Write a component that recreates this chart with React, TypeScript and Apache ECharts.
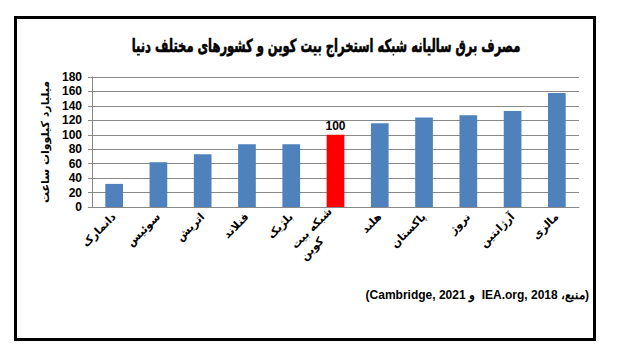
import React, { useEffect, useRef } from "react";
import * as echarts from "echarts";

const NB = "\u00A0";
const categories = [
  "دانمارک",
  "سوئیس",
  "اتریش",
  "فنلاند",
  "بلژیک",
  "شبکه بیت\nکوین" + NB.repeat(7),
  "هلند",
  "پاکستان",
  "نروژ",
  "آرژانتین",
  "مالزی",
];
const values = [32, 62, 73, 87, 87, 100, 116, 124, 127, 133, 158];
const highlightIndex = 5;
const yTicks = [0, 180, 20];

const titleText = "مصرف برق سالیانه شبکه استخراج بیت کوین و کشورهای مختلف دنیا";
const yAxisTitle = "میلیارد کیلووات ساعت";
const sourceText = "\u202B(منبع، IEA.org, 2018  و Cambridge, 2021)\u202C";

const FONT = "'DejaVu Sans', 'Liberation Sans', sans-serif";
const NUMFONT = "'Liberation Sans', Arial, sans-serif";

export default function App() {
  const ref = useRef<HTMLDivElement>(null);
  useEffect(() => {
    if (!ref.current) return;
    const chart = echarts.init(ref.current, null, { renderer: "svg" });
    chart.setOption({
      animation: false,
      backgroundColor: "#ffffff",
      grid: { left: 92, right: 39, top: 77, bottom: 151, containLabel: false },
      graphic: [
        {
          type: "rect",
          shape: { x: 15.5, y: 17.5, width: 579, height: 322 },
          style: { fill: "none", stroke: "#000", lineWidth: 3 },
          silent: true,
        },
        {
          type: "text",
          x: 326,
          y: 46,
          scaleX: 0.64,
          style: {
            text: titleText,
            font: `bold 18px ${FONT}`,
            fill: "#000",
            stroke: "#000",
            lineWidth: 0.6,
            align: "center",
            verticalAlign: "middle",
          },
        },
        {
          type: "text",
          x: 589,
          y: 295,
          style: {
            text: sourceText,
            font: `bold 12px ${NUMFONT}`,
            fill: "#000",
            align: "right",
            verticalAlign: "middle",
          },
        },
      ],
      xAxis: {
        type: "category",
        data: categories,
        axisLine: { show: true, lineStyle: { color: "#888", width: 1 } },
        axisTick: { show: false },
        axisLabel: {
          rotate: 45,
          interval: 0,
          color: "#000",
          fontWeight: "bold",
          fontSize: 11,
          fontFamily: FONT,
          margin: 8,
          lineHeight: 15,
        },
      },
      yAxis: {
        type: "value",
        min: yTicks[0],
        max: yTicks[1],
        interval: yTicks[2],
        name: yAxisTitle,
        nameLocation: "middle",
        nameRotate: 90,
        nameGap: 40,
        nameTextStyle: {
          color: "#000",
          fontWeight: "bold",
          fontSize: 11,
          fontFamily: FONT,
        },
        axisLine: { show: true, lineStyle: { color: "#888", width: 1 } },
        axisTick: { show: true, length: 4, lineStyle: { color: "#888" } },
        splitLine: { show: true, lineStyle: { color: "#888", width: 1 } },
        axisLabel: {
          color: "#000",
          fontWeight: "bold",
          fontSize: 12,
          fontFamily: NUMFONT,
          margin: 10,
        },
      },
      series: [
        {
          type: "bar",
          barWidth: "40%",
          data: values.map((v, i) => ({
            value: v,
            itemStyle: { color: i === highlightIndex ? "#FF0000" : "#4F81BD" },
            label:
              i === highlightIndex
                ? {
                    show: true,
                    position: "top",
                    color: "#000",
                    fontWeight: "bold",
                    fontSize: 12,
                    fontFamily: NUMFONT,
                    distance: 3,
                  }
                : { show: false },
          })),
        },
      ],
    });
    return () => chart.dispose();
  }, []);
  return <div ref={ref} style={{ width: 618, height: 358, position: "absolute", left: 0, top: 0 }} />;
}
